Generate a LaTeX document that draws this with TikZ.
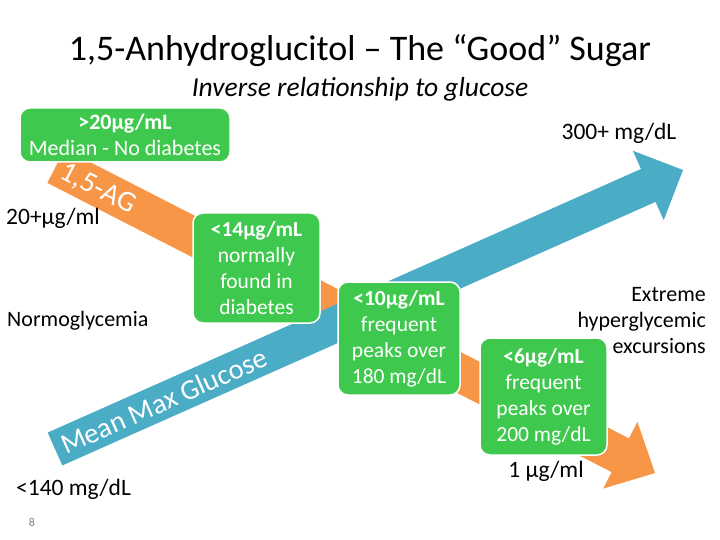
\documentclass[tikz,border=0pt]{standalone}
\usepackage{fontspec}
\setmainfont{Carlito}
\usetikzlibrary{calc}
\definecolor{gbox}{RGB}{62,201,78}
\definecolor{barrow}{RGB}{75,172,198}
\definecolor{oarrow}{RGB}{247,150,70}
\tikzset{
 greenbox/.style={fill=gbox, draw=white, line width=1.5pt, rounded corners=10pt, text=white, align=center, font=\fontsize{21.5}{26}\selectfont, inner sep=0pt},
 lbl/.style={text=black, font=\fontsize{22.5}{26}\selectfont, inner sep=0pt},
 bandtext/.style={text=white, inner sep=0pt}
}
\begin{document}
\begin{tikzpicture}[x=1pt,y=-1pt]
\useasboundingbox (0,0) rectangle (720,540);
% orange arrow
\coordinate (ot) at (56,166);
\coordinate (oh) at (655,473);
\coordinate (ob) at ($(oh)!39pt!(ot)$);
\fill[oarrow] ($(ot)!19pt!90:(oh)$) -- ($(ob)!19pt!90:(oh)$) -- ($(ob)!37.5pt!90:(oh)$) -- (oh) -- ($(ob)!37.5pt!-90:(oh)$) -- ($(ob)!19pt!-90:(oh)$) -- ($(ot)!19pt!-90:(oh)$) -- cycle;
\node[bandtext, rotate=-27.1, font=\fontsize{29}{29}\selectfont] (ag) at (98,189) {1,5-AG};
% blue arrow
\coordinate (bt) at (55,449);
\coordinate (bh) at (683,170);
\coordinate (bb) at ($(bh)!38pt!(bt)$);
\fill[barrow] ($(bt)!18pt!90:(bh)$) -- ($(bb)!18pt!90:(bh)$) -- ($(bb)!38pt!90:(bh)$) -- (bh) -- ($(bb)!38pt!-90:(bh)$) -- ($(bb)!18pt!-90:(bh)$) -- ($(bt)!18pt!-90:(bh)$) -- cycle;
\node[bandtext, rotate=23.95, font=\fontsize{28.5}{28.5}\selectfont] (mmg) at (164,401) {Mean Max Glucose};
% green boxes
\node[greenbox, font=\fontsize{22}{26}\selectfont, minimum width=210pt, minimum height=54pt] (b1) at (125,135) {\textbf{>20μg/mL}\\Median - No diabetes};
\node[greenbox, minimum width=127pt, minimum height=110pt] (b2) at (256.5,268) {\textbf{<14μg/mL}\\normally\\found in\\diabetes};
\node[greenbox, minimum width=122pt, minimum height=113pt] (b3) at (399,338.5) {\textbf{<10μg/mL}\\frequent\\peaks over\\180 mg/dL};
\node[greenbox, minimum width=127pt, minimum height=117pt] (b4) at (543.5,396.5) {\textbf{<6μg/mL}\\frequent\\peaks over\\200 mg/dL};
% titles
\node[font=\fontsize{36}{40}\selectfont, inner sep=0pt] (title) at (360,51) {1,5-Anhydroglucitol – The “Good” Sugar};
\node[font=\fontsize{27.5}{30}\selectfont\itshape, inner sep=0pt] (sub) at (360,89) {Inverse relationship to glucose};
% labels
\node[lbl, font=\fontsize{23.5}{26}\selectfont, anchor=west] (l20) at (6,218) {20+μg/ml};
\node[lbl, font=\fontsize{22}{26}\selectfont, anchor=west] (norm) at (7,321) {Normoglycemia};
\node[lbl, font=\fontsize{23.5}{26}\selectfont, anchor=west] (l140) at (16,489) {<140 mg/dL};
\node[lbl, font=\fontsize{23.5}{26}\selectfont] (l300) at (619,133) {300+ mg/dL};
\node[lbl, font=\fontsize{22}{26}\selectfont, anchor=east, align=right] (ext) at (706,321) {Extreme\\hyperglycemic\\excursions};
\node[lbl, font=\fontsize{23.5}{26}\selectfont] (l1) at (546,471) {1 μg/ml};
\node[text=gray, font=\fontsize{12}{12}\selectfont, inner sep=0pt] (pg) at (32,522) {8};
\end{tikzpicture}
\end{document}
